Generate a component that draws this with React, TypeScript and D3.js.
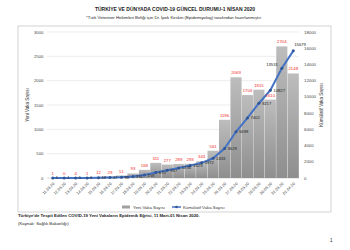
import * as d3 from "d3";
import React from "react";

const dates: string[] = [
	"11.03.20", "12.03.20", "13.03.20", "14.03.20", "15.03.20", "16.03.20",
	"17.03.20", "18.03.20", "19.03.20", "20.03.20", "21.03.20", "22.03.20",
	"23.03.20", "24.03.20", "25.03.20", "26.03.20", "27.03.20", "28.03.20",
	"29.03.20", "30.03.20", "31.03.20", "01.04.20",
];

const newCases: number[] = [
	1, 0, 4, 1, 12, 29, 51, 93, 168, 311, 277, 289, 293, 343, 561, 1196, 2069,
	1704, 1815, 1610, 2704, 2148,
];

const cumulative: number[] = [
	1, 1, 5, 6, 18, 47, 98, 191, 359, 670, 947, 1236, 1529, 1872, 2433, 3629,
	5698, 7402, 9217, 10827, 13531, 15679,
];

const leftTicks: number[] = [0, 500, 1000, 1500, 2000, 2500, 3000];
const rightTicks: number[] = [0, 2000, 4000, 6000, 8000, 10000, 12000, 14000, 16000, 18000];

const title = "TÜRKİYE VE DÜNYADA COVID-19 GÜNCEL DURUMU-1 NİSAN 2020";
const subtitle =
	"*Türk Veteriner Hekimleri Birliği için Dr. İpek Keskin (Epidemiyolog) tarafından hazırlanmıştır.";
const caption =
	"Türkiye'de Tespit Edilen COVID-19 Yeni Vakaların Epidemik Eğrisi, 11 Mart-01 Nisan 2020.";
const source = "(Kaynak: Sağlık Bakanlığı)";

const font = "'Liberation Sans', Arial, sans-serif";
const blue = "#4472c4";
const red = "#f02828";

const App = () => {
	const margin = { left: 47, right: 299, top: 32, bottom: 178 };

	const x = d3
		.scaleBand()
		.domain(dates)
		.range([margin.left, margin.right])
		.paddingInner(0.03)
		.paddingOuter(0.015);
	const yLeft = d3.scaleLinear().domain([0, 3000]).range([margin.bottom, margin.top]);
	const yRight = d3.scaleLinear().domain([0, 18000]).range([margin.bottom, margin.top]);
	const cx = (d: string) => (x(d) ?? 0) + x.bandwidth() / 2;

	const line = d3
		.line<number>()
		.x((_, i) => cx(dates[i]))
		.y((d) => yRight(d));

	return (
		<svg
			width={350}
			height={250}
			viewBox="0 0 350 250"
			style={{ position: "absolute", left: 0, top: 0, background: "#fff" }}
			fontFamily={font}
		>
			<defs>
				<linearGradient id="barGrad" x1="0" y1="0" x2="0" y2="1">
					<stop offset="0%" stopColor="#bdbdbd" />
					<stop offset="100%" stopColor="#8e8e8e" />
				</linearGradient>
			</defs>

			<text x={175} y={10.5} textAnchor="middle" fontSize={5} fontWeight="bold" fill="#222">
				{title}
			</text>
			<text x={174} y={19} textAnchor="middle" fontSize={4.3} fill="#222">
				{subtitle}
			</text>

			{/* chart frame */}
			<rect x={18} y={26} width={313} height={186} fill="none" stroke="#bfbfbf" strokeWidth={0.7} />

			{/* grid + left axis */}
			{leftTicks.map((t) => (
				<g key={`l${t}`}>
					<line
						x1={margin.left}
						x2={margin.right}
						y1={yLeft(t)}
						y2={yLeft(t)}
						stroke={t === 0 ? "#bfbfbf" : "#e0e0e0"}
						strokeWidth={0.6}
					/>
					<text x={43.5} y={yLeft(t)} dy="0.35em" textAnchor="end" fontSize={4.3} fill="#444">
						{t}
					</text>
				</g>
			))}
			{rightTicks.map((t) => (
				<text key={`r${t}`} x={304} y={yRight(t)} dy="0.35em" fontSize={4.3} fill="#444">
					{t}
				</text>
			))}

			<text
				transform={`translate(29,105) rotate(-90)`}
				textAnchor="middle"
				fontSize={4.5}
				fill="#333"
			>
				Yeni Vaka Sayısı
			</text>
			<text
				transform={`translate(323,105) rotate(-90)`}
				textAnchor="middle"
				fontSize={4.5}
				fill="#333"
			>
				Kümülatif Vaka Sayısı
			</text>

			{/* bars */}
			{dates.map((d, i) => (
				<rect
					key={`b${d}`}
					x={x(d)}
					y={yLeft(newCases[i])}
					width={x.bandwidth()}
					height={margin.bottom - yLeft(newCases[i])}
					fill="url(#barGrad)"
				/>
			))}

			{/* cumulative line */}
			<path d={line(cumulative) ?? ""} fill="none" stroke={blue} strokeWidth={2} />
			{cumulative.map((v, i) => (
				<circle key={`c${i}`} cx={cx(dates[i])} cy={yRight(v)} r={1.5} fill="#2f5597" />
			))}

			{/* new case labels */}
			{newCases.map((v, i) => (
				<text
					key={`n${i}`}
					x={cx(dates[i])}
					y={yLeft(v) - 4.5}
					dy="0.35em"
					textAnchor="middle"
					fontSize={4.3}
					fill={red}
				>
					{v}
				</text>
			))}

			{/* cumulative labels */}
			{cumulative.map((v, i) => {
				const px = cx(dates[i]);
				const py = yRight(v);
				const last = i === cumulative.length - 1;
				const beforeLast = i === cumulative.length - 2;
				const lx = beforeLast ? px - 4 : last ? px + 1 : px + 3;
				const ly = beforeLast ? py - 4 : last ? py - 6 : py;
				return (
					<text
						key={`k${i}`}
						x={lx}
						y={ly}
						dy="0.35em"
						textAnchor={beforeLast ? "end" : "start"}
						fontSize={4.2}
						fill="#222"
					>
						{v}
					</text>
				);
			})}

			{/* x axis labels */}
			{dates.map((d) => (
				<text
					key={`x${d}`}
					transform={`translate(${cx(d) + 1},${margin.bottom + 5}) rotate(-45)`}
					textAnchor="end"
					dy="0.35em"
					fontSize={4}
					fill="#444"
				>
					{d}
				</text>
			))}

			{/* legend */}
			<rect x={122} y={205.5} width={8} height={3} fill="#a0a0a0" />
			<text x={133} y={207} dy="0.35em" fontSize={4.3} fill="#333">
				Yeni Vaka Sayısı
			</text>
			<line x1={172} x2={181} y1={207} y2={207} stroke={blue} strokeWidth={1.5} />
			<circle cx={176.5} cy={207} r={1.3} fill="#2f5597" />
			<text x={183} y={207} dy="0.35em" fontSize={4.3} fill="#333">
				Kümülatif Vaka Sayısı
			</text>

			<text x={18} y={217} fontSize={4.3} fontWeight="bold" fill="#222">
				{caption}
			</text>
			<text x={18} y={224.5} fontSize={4.3} fill="#222">
				{source}
			</text>
			<text x={330} y={242} fontSize={4.5} fill="#222">
				1
			</text>
		</svg>
	);
};

export default App;
